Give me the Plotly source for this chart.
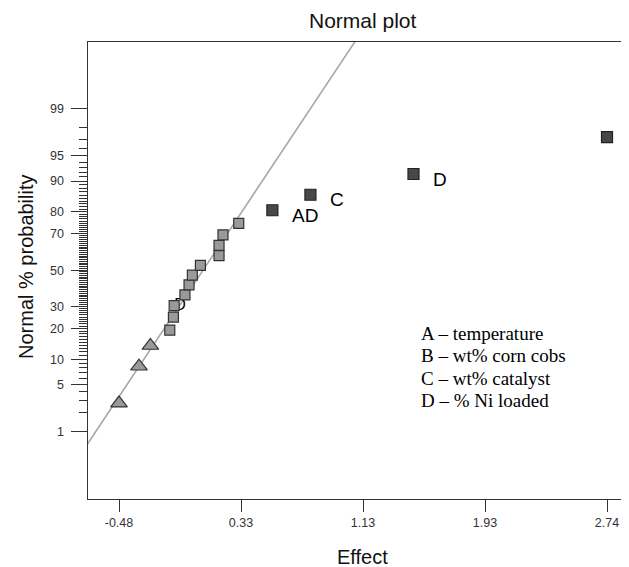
import plotly.graph_objects as go
from statistics import NormalDist

nd = NormalDist()

# ---------------- data ----------------
tri_effect = [-0.48, -0.348, -0.273]
tri_prob = [2.78, 8.33, 13.89]

sq_effect = [-0.145, -0.121, -0.116, -0.045, -0.018, 0.004, 0.057, 0.180, 0.180, 0.206, 0.310]
sq_prob = [19.44, 25.0, 30.56, 36.11, 41.67, 47.22, 52.78, 58.33, 63.89, 69.44, 75.0]

sig_effect = [0.532, 0.783, 1.463, 2.74]
sig_prob = [80.56, 86.11, 91.67, 97.22]
sig_labels = ["AD", "C", "D", "A"]

hidden_label = ["D"]
hidden_effect = [-0.116]
hidden_prob = [30.56]

line_effect = [-0.929, 1.078]
line_prob = [0.05, 99.95]

y_major = [1, 5, 10, 20, 30, 50, 70, 80, 90, 95, 99]
y_minor = list(range(1, 100))
x_tickvals = [-0.48, 0.325, 1.13, 1.935, 2.74]
x_ticktext = ["-0.48", "0.33", "1.13", "1.93", "2.74"]

legend_lines = ["A \u2013 temperature", "B \u2013 wt% corn cobs",
                "C \u2013 wt% catalyst", "D \u2013 % Ni loaded"]


def z(p):
    return nd.inv_cdf(p / 100.0)


# the page body has an 8px margin, so the figure is laid out 8px smaller
OFF = 8
W, H = 629 - OFF, 567 - OFF
ML, MR, MT, MB = 88 - OFF, 0, 42 - OFF, 68
PW, PH = W - ML - MR, H - MT - MB


def px(xp):  # window pixel -> paper x
    return (xp - OFF - ML) / PW


def py(yp):  # window pixel -> paper y
    return (H - MB - (yp - OFF)) / PH


SANS = "Liberation Sans, Arial, sans-serif"
SERIF = "Liberation Serif, Times New Roman, serif"

fig = go.Figure()

# reference line
fig.add_trace(go.Scatter(
    x=line_effect, y=[z(p) for p in line_prob], mode="lines",
    line=dict(color="#a8a8a8", width=1.6), hoverinfo="skip", showlegend=False))

# partly hidden label (drawn below the squares)
fig.add_trace(go.Scatter(
    x=hidden_effect, y=[z(p) for p in hidden_prob], mode="text",
    text=hidden_label, textposition="middle right",
    textfont=dict(family=SANS, size=16, color="#000"),
    showlegend=False, hoverinfo="skip"))

# negative effects (triangles)
fig.add_trace(go.Scatter(
    x=tri_effect, y=[z(p) for p in tri_prob], mode="markers",
    marker=dict(symbol="triangle-up", size=14.5, color="#9a9a9a",
                line=dict(color="#333", width=1.2)),
    showlegend=False))

# small effects (light squares)
fig.add_trace(go.Scatter(
    x=sq_effect, y=[z(p) for p in sq_prob], mode="markers",
    marker=dict(symbol="square", size=10, color="#9a9a9a",
                line=dict(color="#333", width=1.2)),
    showlegend=False))

# significant effects (dark squares)
fig.add_trace(go.Scatter(
    x=sig_effect, y=[z(p) for p in sig_prob], mode="markers",
    marker=dict(symbol="square", size=11, color="#484848",
                line=dict(color="#222", width=1.2)),
    showlegend=False))

annotations = []
for e, p, lab in zip(sig_effect, sig_prob, sig_labels):
    annotations.append(dict(
        x=e, y=z(p), xref="x", yref="y", text=lab, showarrow=False,
        xanchor="left", yanchor="middle", xshift=18, yshift=-5,
        font=dict(family=SANS, size=19, color="#000")))

# title
annotations.append(dict(x=px(363), y=py(20.5), xref="paper", yref="paper",
                        text="Normal plot", showarrow=False,
                        xanchor="center", yanchor="middle",
                        font=dict(family=SANS, size=21, color="#111")))
# x title
annotations.append(dict(x=px(362), y=py(557), xref="paper", yref="paper",
                        text="Effect", showarrow=False,
                        xanchor="center", yanchor="middle",
                        font=dict(family=SANS, size=20, color="#111")))
# y title
annotations.append(dict(x=px(26), y=py(267), xref="paper", yref="paper",
                        text="Normal % probability", showarrow=False,
                        textangle=-90, xanchor="center", yanchor="middle",
                        font=dict(family=SANS, size=20, color="#111")))
# factor key
for i, t in enumerate(legend_lines):
    yc = [333.3, 355.7, 378.3, 400.0][i]
    annotations.append(dict(x=px(419), y=py(yc), xref="paper", yref="paper",
                            text=t, showarrow=False,
                            xanchor="left", yanchor="middle",
                            font=dict(family=SERIF, size=19, color="#000")))

fig.update_layout(
    width=W, height=H,
    margin=dict(l=ML, r=MR, t=MT, b=MB, pad=0),
    paper_bgcolor="white", plot_bgcolor="white",
    showlegend=False,
    annotations=annotations,
    xaxis=dict(range=[-0.6846, 2.885], tickmode="array",
               tickvals=x_tickvals, ticktext=x_ticktext,
               ticks="outside", ticklen=12, tickwidth=1.2, tickcolor="#333",
               showline=True, linecolor="#333", linewidth=1.2, mirror=True,
               showgrid=False, zeroline=False,
               tickfont=dict(family=SANS, size=12.5, color="#333")),
    yaxis=dict(range=[-3.291, 3.282], tickmode="array",
               tickvals=[z(p) for p in y_major],
               ticktext=[str(p) for p in y_major],
               ticks="outside", ticklen=15.5, tickwidth=1.2, tickcolor="#333",
               ticklabelstandoff=5,
               minor=dict(tickmode="array", tickvals=[z(p) for p in y_minor],
                          ticks="outside", ticklen=7.5, tickwidth=1.1,
                          tickcolor="#333", showgrid=False),
               showline=True, linecolor="#333", linewidth=1.2, mirror=False,
               showgrid=False, zeroline=False,
               tickfont=dict(family=SANS, size=12.5, color="#333")),
)

fig.write_html("out.html")
